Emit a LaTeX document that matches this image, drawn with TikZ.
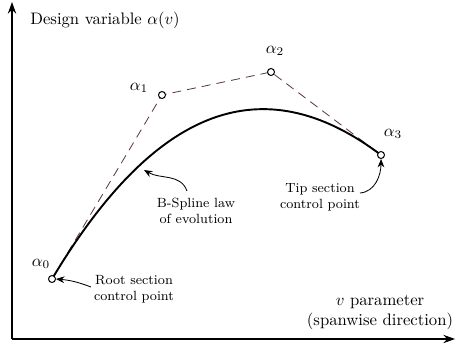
\documentclass[tikz,border=0pt]{standalone}
\usetikzlibrary{arrows.meta}
\definecolor{dashc}{RGB}{95,60,60}
\begin{document}
\begin{tikzpicture}[x=0.6pt,y=-0.6pt,
  axis/.style={line width=0.7pt,-{Stealth[length=7pt,width=5pt]}},
  ctrl/.style={circle,draw,fill=white,line width=0.6pt,inner sep=0pt,minimum size=4.2pt},
  poly/.style={dashc,dash pattern=on 5.4pt off 3.6pt,line width=0.5pt},
  spline/.style={line width=1.15pt},
  note/.style={font=\footnotesize,align=center,inner sep=0pt},
  lab/.style={inner sep=0pt},
  pointer/.style={line width=0.5pt,-{Stealth[length=5pt,width=4pt]}}]
\useasboundingbox (0,0) rectangle (456,345);
% axes
\coordinate (O) at (12,339);
\coordinate (ytop) at (12,2);
\coordinate (xend) at (455,339);
\draw[axis] (O) -- (ytop);
\draw[axis] (O) -- (xend);
% control points
\coordinate (c0) at (52,279);
\coordinate (c1) at (162,95);
\coordinate (c2) at (271,72);
\coordinate (c3) at (381,155);
\draw[poly] (c0) -- (c1) -- (c2) -- (c3);
\draw[spline] (c0) .. controls (c1) and (c2) .. (c3);
\node[ctrl] (p0) at (c0) {};
\node[ctrl] (p1) at (c1) {};
\node[ctrl] (p2) at (c2) {};
\node[ctrl] (p3) at (c3) {};
% point labels
\node[lab] (a0) at (41,264) {$\alpha_0$};
\node[lab] (a1) at (139,88) {$\alpha_1$};
\node[lab] (a2) at (275,51) {$\alpha_2$};
\node[lab] (a3) at (393,134) {$\alpha_3$};
% axis labels
\node[lab,anchor=west] (ylab) at (30,20) {Design variable $\alpha(v)$};
\node[lab,align=center] (xlab) at (380,312) {$v$ parameter\\(spanwise direction)};
% notes
\node[note] (bs) at (196,211) {B-Spline law\\of evolution};
\node[note] (root) at (134,289) {Root section\\control point};
\node[note] (tip) at (320,197) {Tip section\\control point};
% pointers
\coordinate (bsTail) at (187,191);
\coordinate (bsTip) at (144,170);
\draw[pointer] (bsTail) to[out=110,in=-30] (bsTip);
\coordinate (rootTail) at (91,287);
\draw[pointer] (rootTail) to[bend right=8] (p0.east);
\coordinate (tipTail) at (360,193);
\draw[pointer] (tipTail) to[out=5,in=-90] (p3.south);
\end{tikzpicture}
\end{document}
